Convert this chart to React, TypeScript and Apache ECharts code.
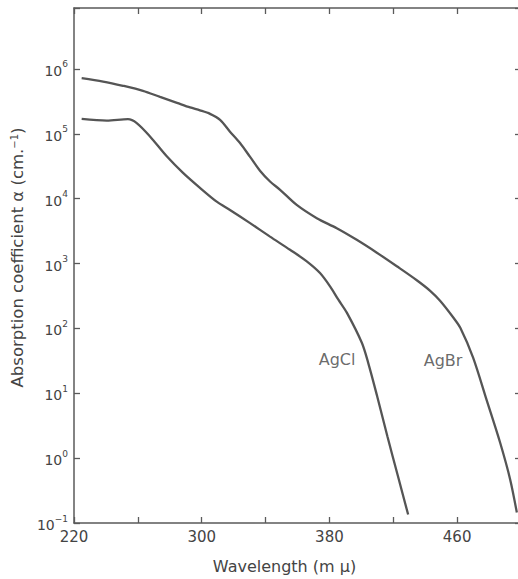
import React, { useEffect, useRef } from "react";
import * as echarts from "echarts";

const agbrX = [224.8, 238.2, 250.7, 263.2, 273.9, 284.5, 292.7, 298.9, 305.2, 311.5, 317.7, 324.0, 330.3, 336.5, 342.8, 349.1, 359.5, 372.1, 384.6, 397.1, 409.7, 422.2, 434.7, 443.1, 449.3, 457.7, 461.9, 470.0, 478.6, 486.9, 493.2, 497.4];
const agbrY = [7.2e5, 6.4e5, 5.5e5, 4.6e5, 3.7e5, 3.0e5, 2.55e5, 2.3e5, 2.03e5, 1.64e5, 1.08e5, 7.2e4, 4.4e4, 2.7e4, 1.84e4, 1.37e4, 8.0e3, 5.0e3, 3.5e3, 2.32e3, 1.47e3, 908, 553, 380, 267, 146, 103, 35.5, 7.7, 1.74, 0.47, 0.145];

const agclX = [224.8, 240.5, 253.8, 259.3, 267.6, 278.1, 288.3, 298.9, 309.4, 317.7, 330.3, 342.8, 355.3, 365.8, 374.1, 380.4, 385.6, 390.9, 400.3, 404.2, 409.9, 416.3, 422.9, 429.3];
const agclY = [1.7e5, 1.6e5, 1.68e5, 1.46e5, 9.1e4, 4.5e4, 2.5e4, 1.47e4, 9.0e3, 6.7e3, 4.2e3, 2.6e3, 1.63e3, 1.08e3, 713, 444, 277, 175, 60, 30, 9.0, 2.17, 0.53, 0.135];

const seriesNames = ["AgBr", "AgCl"];
const labelX = [451.2, 384.8];
const labelY = [32, 33];

const xMin = 220;
const xMax = 500;
const xInterval = 40;
const yMin = 0.1;
const yMax = 8.7e6;

const xTitle = "Wavelength (m μ)";
const yTitle = "Absorption coefficient α (cm.{s|−1})";

const TXT = "#444";
const AX = "#5a5a5a";
const LINE = "#555";
const FONT = "DejaVu Sans";

export default function App() {
  const ref = useRef<HTMLDivElement>(null);
  useEffect(() => {
    if (!ref.current) return;
    const chart = echarts.init(ref.current, undefined, { renderer: "svg" });
    const pair = (xs: number[], ys: number[]) => xs.map((x, i) => [x, ys[i]]);
    const yFmt = (v: number) => {
      const l = Math.log10(v);
      const e = Math.round(l);
      if (Math.abs(l - e) > 0.01 || e > 6) return "";
      return "{b|10}{s|" + (e < 0 ? "−" + -e : e) + "}";
    };
    const axisLine = { show: true, lineStyle: { color: AX, width: 1.5 } };
    const tick = { show: true, inside: true, length: 6, lineStyle: { color: AX, width: 1.3 } };
    chart.setOption({
      animation: false,
      backgroundColor: "#fff",
      grid: { left: 74, top: 8, right: 3, bottom: 56 },
      xAxis: [
        {
          type: "value",
          min: xMin,
          max: xMax,
          interval: xInterval,
          position: "bottom",
          axisLine,
          axisTick: tick,
          splitLine: { show: false },
          axisLabel: {
            color: TXT,
            fontFamily: FONT,
            fontSize: 15,
            margin: 6,
            formatter: (v: number) => ((v - xMin) % 80 === 0 && v < xMax ? String(v) : ""),
          },
          name: xTitle,
          nameLocation: "middle",
          nameGap: 35,
          nameTextStyle: { color: TXT, fontFamily: FONT, fontSize: 16, padding: [0, 26, 0, 0] },
        },
        {
          type: "value",
          min: xMin,
          max: xMax,
          interval: xInterval,
          position: "top",
          axisLine,
          axisTick: tick,
          splitLine: { show: false },
          axisLabel: { show: false },
        },
      ],
      yAxis: [
        {
          type: "log",
          logBase: 10,
          min: yMin,
          max: yMax,
          position: "left",
          axisLine,
          axisTick: tick,
          splitLine: { show: false },
          axisLabel: {
            color: TXT,
            fontFamily: FONT,
            margin: 6,
            formatter: yFmt,
            rich: {
              b: { fontSize: 14, fontFamily: FONT, color: TXT, lineHeight: 18, verticalAlign: "bottom" },
              s: { fontSize: 9, fontFamily: FONT, color: TXT, lineHeight: 10, verticalAlign: "top" },
            },
          },
          name: yTitle,
          nameLocation: "middle",
          nameGap: 40,
          nameTextStyle: {
            color: TXT,
            fontFamily: FONT,
            fontSize: 16.5,
            padding: [0, 0, 0, 16],
            rich: { s: { fontSize: 10, fontFamily: FONT, color: TXT, verticalAlign: "top", lineHeight: 10 } },
          },
        },
        {
          type: "log",
          logBase: 10,
          min: yMin,
          max: yMax,
          position: "right",
          axisLine,
          axisTick: tick,
          splitLine: { show: false },
          axisLabel: { show: false },
        },
      ],
      series: [
        {
          name: seriesNames[0],
          type: "line",
          data: pair(agbrX, agbrY),
          showSymbol: false,
          smooth: 0.3,
          lineStyle: { color: LINE, width: 2.3 },
        },
        {
          name: seriesNames[1],
          type: "line",
          data: pair(agclX, agclY),
          showSymbol: false,
          smooth: 0.3,
          lineStyle: { color: LINE, width: 2.3 },
        },
        {
          type: "scatter",
          data: labelX.map((x, i) => ({ value: [x, labelY[i]], name: seriesNames[i] })),
          symbolSize: 1,
          itemStyle: { color: "rgba(0,0,0,0)" },
          label: {
            show: true,
            position: "inside",
            formatter: (p: any) => p.name,
            color: TXT,
            fontFamily: FONT,
            fontSize: 16,
          },
        },
      ],
    });
    return () => chart.dispose();
  }, []);
  return (
    <div style={{ position: "absolute", left: 0, top: 0, width: 518, height: 579, overflow: "hidden" }}>
      <div ref={ref} style={{ width: 524, height: 579 }} />
    </div>
  );
}
